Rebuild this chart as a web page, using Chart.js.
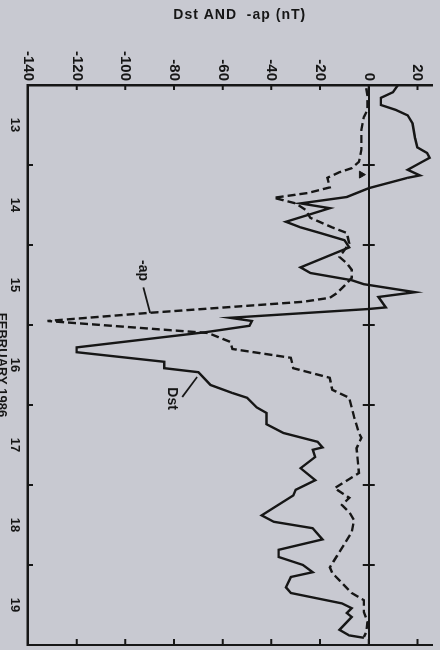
<!DOCTYPE html>
<html>
<head>
<meta charset="utf-8">
<title>Dst and -ap, February 1986</title>
<script src="https://cdn.jsdelivr.net/npm/chart.js@4.4.1/dist/chart.umd.min.js"></script>
<style>
  html, body { margin: 0; padding: 0; background: #c8c9d1; overflow: hidden; }
  body { width: 440px; height: 650px; position: relative; }
  /* the figure is printed sideways: draw it upright, then turn it a quarter turn clockwise */
  #page {
    position: absolute; left: 0; top: 0; width: 650px; height: 440px;
    transform-origin: 0 0; transform: translate(440px, 0) rotate(90deg);
  }
</style>
</head>
<body>
<div id="page"><canvas id="chart" width="650" height="440"></canvas></div>
<script>
// times are days of February 1986 (13.5 = noon on the 13th), values in nT
const dstTimes = [13.00, 13.09, 13.16, 13.25, 13.31, 13.38, 13.48, 13.66, 13.78, 13.85, 13.91, 13.96,
  14.06, 14.13, 14.16, 14.29, 14.40, 14.48, 14.54, 14.71, 14.78, 14.85, 14.94, 15.03, 15.28, 15.35,
  15.44, 15.49, 15.59, 15.65, 15.78, 15.80, 15.91, 15.95, 16.01, 16.09, 16.28, 16.34, 16.46, 16.54,
  16.59, 16.75, 16.85, 16.91, 17.03, 17.10, 17.24, 17.35, 17.46, 17.53, 17.56, 17.65, 17.79, 17.94,
  18.06, 18.13, 18.38, 18.46, 18.54, 18.68, 18.81, 18.90, 19.00, 19.09, 19.15, 19.28, 19.35, 19.48,
  19.54, 19.60, 19.65, 19.81, 19.88, 19.91];
const dstValues = [12, 10, 5, 5, 11, 16, 18, 19, 20, 24, 25, 22,
  16, 21, 16, 0, -9, -28, -16, -34, -28, -20, -10, -8, -28, -24,
  -7, -2, 19, 4, 7, 0, -57, -48, -49, -67, -120, -120, -84, -84,
  -70, -65, -56, -50, -46, -42, -42, -35, -21, -19, -23, -22, -28, -22,
  -30, -31, -44, -39, -23, -19, -37, -37, -27, -23, -32, -34, -32, -11,
  -7, -9, -7, -12, -8, -2];

const apTimes = [13.04, 13.13, 13.31, 13.40, 13.56, 13.81, 13.96, 14.04, 14.09, 14.16, 14.28, 14.35,
  14.41, 14.48, 14.56, 14.66, 14.78, 14.85, 14.98, 15.15, 15.23, 15.31, 15.41, 15.48, 15.60, 15.66,
  15.71, 15.85, 15.95, 16.10, 16.21, 16.30, 16.41, 16.54, 16.66, 16.81, 16.91, 17.15, 17.35, 17.41,
  17.54, 17.85, 18.04, 18.16, 18.25, 18.34, 18.44, 18.59, 18.69, 19.03, 19.10, 19.35, 19.44, 19.59,
  19.71, 19.84, 19.90];
const apValues = [-1, -0.5, -0.5, -2, -3, -3, -4, -7, -12, -17, -16, -25,
  -39, -30, -26, -24, -15, -9, -8, -12, -9, -7, -7, -9, -13, -16,
  -27, -91, -132, -66, -57, -56, -32, -31, -16, -15, -8, -6, -4, -3,
  -5, -4, -14, -8, -11, -8, -6, -7, -9, -16, -15, -7, -2, -2,
  -0.5, -1, -2];

// storm sudden commencement flag on the zero line
const sscTimes = [14.12];
const sscValues = [-3];

const dayLabels = ['13', '14', '15', '16', '17', '18', '19'];
const valueTicks = [-140, -120, -100, -80, -60, -40, -20, 0, 20];

const ink = '#161616';
const fontFamily = '"Liberation Sans", Arial, Helvetica, sans-serif';
const valueTitle = 'Dst AND  -ap (nT)';

// curve labels with their pointer lines, in data units [day, nT]
const notes = [
  { text: '-ap', at: [15.32, -93], from: [15.53, -92.6], to: [15.85, -89.8] },
  { text: 'Dst', at: [16.92, -80.7], from: [16.90, -76.6], to: [16.65, -70.5] }
];

function toPoints(times, values) {
  return times.map((t, i) => ({ x: t, y: values[i] }));
}

// inward tick marks, closing frame line, zero-line day marks, value title and curve labels
const marks = {
  id: 'marks',
  afterDraw(chart) {
    const { ctx, chartArea: a, scales: { x, y } } = chart;
    ctx.save();
    ctx.strokeStyle = ink;
    ctx.fillStyle = ink;
    ctx.lineWidth = 2;
    ctx.beginPath();
    ctx.moveTo(a.right, a.top - 1);
    ctx.lineTo(a.right, a.bottom);
    valueTicks.forEach(v => {
      const py = y.getPixelForValue(v);
      ctx.moveTo(a.left, py); ctx.lineTo(a.left + 5, py);
      ctx.moveTo(a.right, py); ctx.lineTo(a.right - 6, py);
    });
    const y0 = y.getPixelForValue(0);
    for (let d = 14; d <= 19; d++) {
      const px = x.getPixelForValue(d);
      ctx.moveTo(px, a.bottom); ctx.lineTo(px, a.bottom - 5);
      ctx.moveTo(px, y0 - 6); ctx.lineTo(px, y0 + 6);
    }
    ctx.stroke();

    ctx.textAlign = 'center';
    ctx.textBaseline = 'middle';

    // value axis title, read along the axis
    ctx.save();
    ctx.font = 'bold 14px ' + fontFamily;
    ctx.letterSpacing = '1px';
    ctx.translate(a.left - 70, y.getPixelForValue(-53));
    ctx.rotate(-Math.PI / 2);
    ctx.fillText(valueTitle, 0, 0);
    ctx.restore();

    ctx.font = 'bold 14px ' + fontFamily;
    ctx.lineWidth = 1.8;
    notes.forEach(n => {
      ctx.fillText(n.text, x.getPixelForValue(n.at[0]), y.getPixelForValue(n.at[1]));
      ctx.beginPath();
      ctx.moveTo(x.getPixelForValue(n.from[0]), y.getPixelForValue(n.from[1]));
      ctx.lineTo(x.getPixelForValue(n.to[0]), y.getPixelForValue(n.to[1]));
      ctx.stroke();
    });
    ctx.restore();
  }
};

Chart.defaults.font.family = fontFamily;
Chart.defaults.color = ink;

const ctx = document.getElementById('chart').getContext('2d');
new Chart(ctx, {
  type: 'line',
  data: {
    datasets: [
      {
        label: 'Dst',
        data: toPoints(dstTimes, dstValues),
        borderColor: ink,
        borderWidth: 2.4,
        pointRadius: 0,
        tension: 0
      },
      {
        label: '-ap',
        data: toPoints(apTimes, apValues),
        borderColor: ink,
        borderWidth: 2.4,
        borderDash: [8, 4],
        pointRadius: 0,
        tension: 0
      },
      {
        label: 'SSC',
        data: toPoints(sscTimes, sscValues),
        showLine: false,
        pointStyle: 'triangle',
        pointRadius: 4,
        backgroundColor: ink,
        borderColor: ink,
        borderWidth: 1
      }
    ]
  },
  options: {
    responsive: false,
    animation: false,
    layout: { padding: { top: 8, right: 5, left: 0, bottom: 0 } },
    plugins: {
      legend: { display: false },
      tooltip: { enabled: false }
    },
    scales: {
      x: {
        type: 'linear',
        min: 13,
        max: 20,
        afterBuildTicks: s => { s.ticks = dayLabels.map((d, i) => ({ value: 13.5 + i })); },
        afterFit: s => { s.height = 28; s.paddingLeft = 0; s.paddingRight = 0; },
        ticks: {
          padding: 6,
          font: { size: 13, weight: 'bold' },
          color: ink,
          callback: (v, i) => dayLabels[i]
        },
        grid: { display: false, drawTicks: false },
        border: { display: true, color: ink, width: 2.5 },
        title: {
          display: true,
          text: 'FEBRUARY 1986',
          color: ink,
          font: { size: 13, weight: 'bold' },
          padding: { top: 0, bottom: -6 }
        }
      },
      y: {
        type: 'linear',
        min: -140,
        max: 26,
        afterBuildTicks: s => { s.ticks = valueTicks.map(v => ({ value: v })); },
        // room for the title drawn by the plugin; no extra label overhang at the ends
        afterFit: s => { s.width = 85; s.paddingTop = 0; s.paddingBottom = 0; },
        ticks: {
          padding: 4,
          font: { size: 15, weight: 'bold' },
          color: ink
        },
        grid: {
          drawTicks: false,
          lineWidth: 2,
          color: c => (c.tick && c.tick.value === 0 ? ink : 'rgba(0,0,0,0)')
        },
        border: { display: true, color: ink, width: 2.5 }
      }
    }
  },
  plugins: [marks]
});
</script>
</body>
</html>
